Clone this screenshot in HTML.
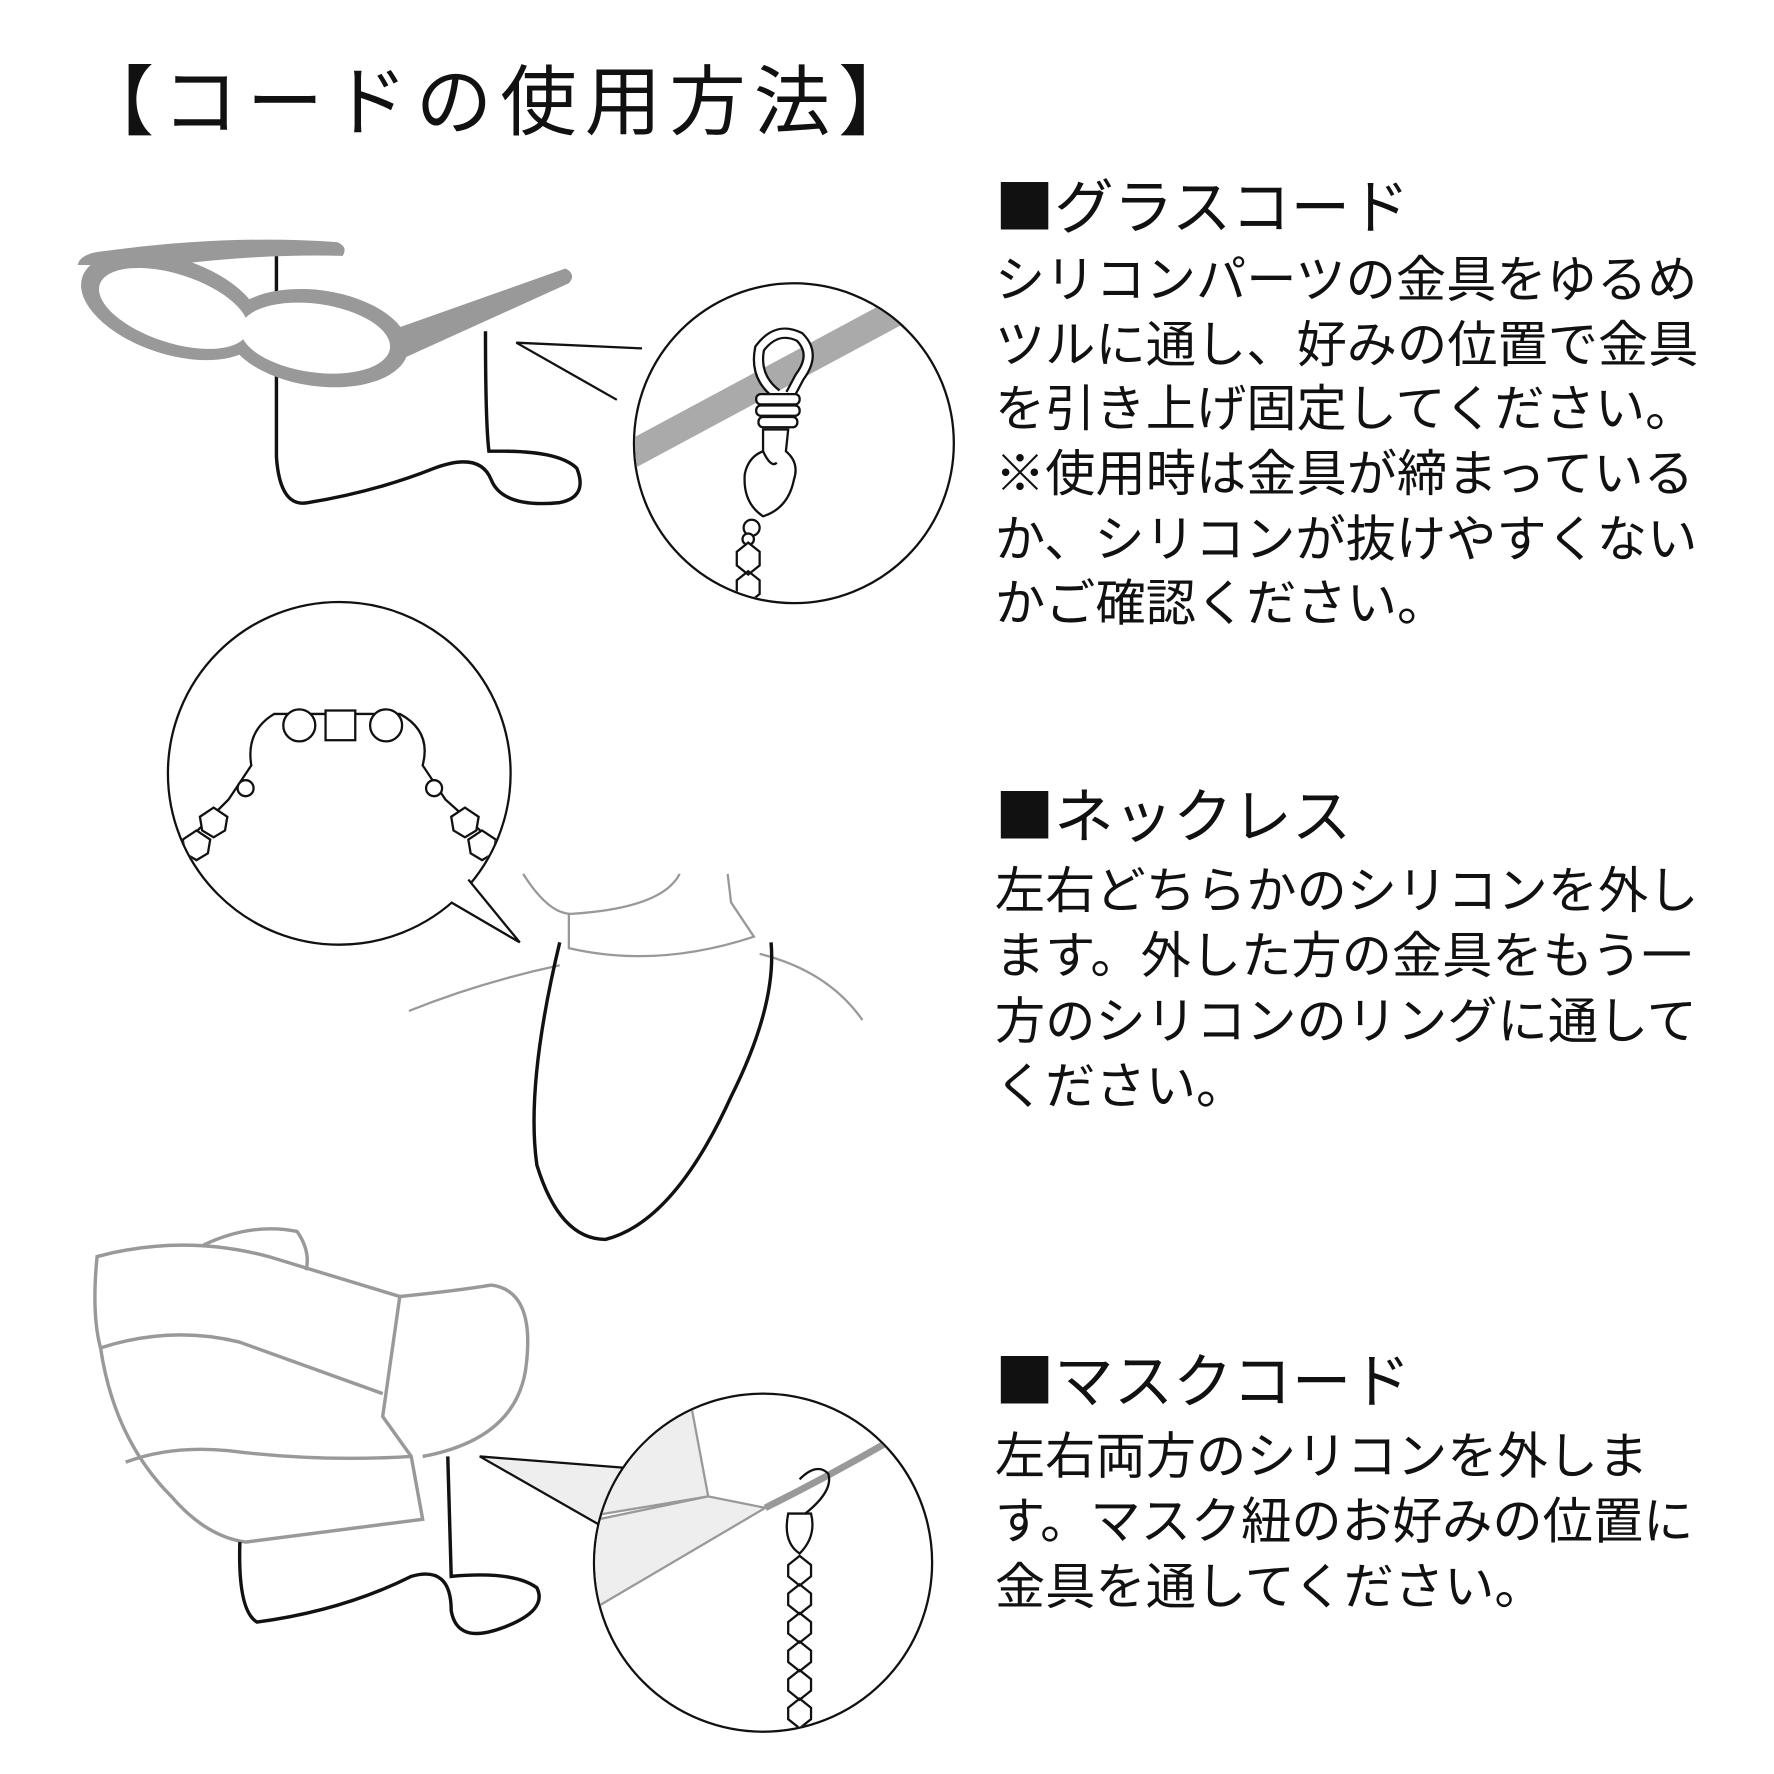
<!DOCTYPE html>
<html><head><meta charset="utf-8"><style>
html,body{margin:0;padding:0;background:#fff}
svg{display:block}
text{font-family:"Liberation Sans","Noto Sans CJK JP",sans-serif;fill:#111}
.h{font-family:"Noto Sans CJK JP",sans-serif}
</style></head><body>
<svg width="1774" height="1774" viewBox="0 0 1553 1553" xmlns="http://www.w3.org/2000/svg">
<rect width="1553" height="1553" fill="#fff"/>
<text x="68" y="113" font-size="67" class="h" letter-spacing="7">【コードの使用方法】</text>

<g font-size="44">
<text x="871" y="200" font-size="52" class="h">■グラスコード</text>
<text x="871" y="260">シリコンパーツの金具をゆるめ</text>
<text x="871" y="317">ツルに通し、好みの位置で金具</text>
<text x="871" y="373">を引き上げ固定してください。</text>
<text x="871" y="430">※使用時は金具が締まっている</text>
<text x="871" y="487">か、シリコンが抜けやすくない</text>
<text x="871" y="543">かご確認ください。</text>
<text x="871" y="733" font-size="52" class="h">■ネックレス</text>
<text x="871" y="795">左右どちらかのシリコンを外し</text>
<text x="871" y="852">ます。外した方の金具をもう一</text>
<text x="871" y="909">方のシリコンのリングに通して</text>
<text x="871" y="966">ください。</text>
<text x="871" y="1228" font-size="52" class="h">■マスクコード</text>
<text x="871" y="1290">左右両方のシリコンを外しま</text>
<text x="871" y="1347">す。マスク紐のお好みの位置に</text>
<text x="871" y="1404">金具を通してください。</text>
</g>

<path d="M242 212 L242 400 Q245 445 270 440 Q330 430 380 410 Q420 395 430 420 Q440 445 490 440 Q515 435 505 410 Q490 395 440 395 L428 395 Q425 370 425 290" fill="none" stroke="#111" stroke-width="3"/>
<g fill="#999">
<path d="M68 232 Q70 222 90 220 Q200 205 295 212 Q305 216 300 224 Q230 222 150 232 Z"/>
<ellipse cx="150" cy="268" rx="82" ry="42" transform="rotate(18 150 268)"/>
<ellipse cx="278" cy="296" rx="80" ry="42" transform="rotate(8 278 296)"/>
<path d="M340 290 L495 235 Q505 240 498 248 L350 315 Z"/>
</g>
<g fill="#fff">
<ellipse cx="152" cy="270" rx="68" ry="30" transform="rotate(18 152 270)"/>
<ellipse cx="276" cy="296" rx="66" ry="30" transform="rotate(8 276 296)"/>
</g>
<path d="M562 305 L452 300 L540 350" fill="#fff" stroke="#111" stroke-width="2"/>
<circle cx="695" cy="388" r="140" fill="#fff" stroke="#111" stroke-width="2"/>
<clipPath id="c1"><circle cx="695" cy="388" r="139"/></clipPath>
<g clip-path="url(#c1)" stroke="#111" stroke-width="2">
<path d="M530 410 L800 265" stroke="#aaa" stroke-width="24"/>
<path d="M680 345 Q660 330 665 305 Q680 285 700 295 Q715 310 700 330 L692 345" fill="none" stroke-width="10" stroke="#111"/>
<path d="M680 345 Q660 330 665 305 Q680 285 700 295 Q715 310 700 330 L692 345" fill="none" stroke-width="6" stroke="#fff"/>
<rect x="662" y="345" width="38" height="9" rx="4" fill="#fff"/>
<rect x="662" y="355" width="38" height="9" rx="4" fill="#fff"/>
<rect x="664" y="365" width="34" height="9" rx="4" fill="#fff"/>
<path d="M668 376 L690 376 L688 395 Q700 405 695 420 Q690 445 668 452 Q650 440 652 415 Q655 400 668 395 Z" fill="#fff"/>
<path d="M668 395 Q675 410 680 405" fill="none"/>
<circle cx="658" cy="462" r="7" fill="#fff"/>
<circle cx="655" cy="472" r="5" fill="#fff"/>
<path d="M645 483 l10 -8 l10 8 l0 12 l-10 8 l-10 -8z M645 508 l10 -8 l10 8 l0 12 l-10 8 l-10 -8z M645 533 l10 -8 l10 8 l0 12 l-10 8 l-10 -8z" fill="#fff"/>
</g>

<circle cx="297" cy="677" r="150" fill="#fff" stroke="#111" stroke-width="2"/>
<path d="M395 790 L455 825 L410 770" fill="#fff" stroke="#111" stroke-width="2"/>
<path d="M396 789 L409 771" stroke="#fff" stroke-width="4"/>
<clipPath id="c2"><circle cx="297" cy="677" r="149"/></clipPath>
<g clip-path="url(#c2)" fill="#fff" stroke="#111" stroke-width="2">
<path d="M160 740 L200 700 L220 670 Q215 640 240 625 L350 625 Q378 640 370 670 L390 700 L435 740" fill="none"/>
<circle cx="262" cy="635" r="14"/><circle cx="338" cy="635" r="14"/>
<rect x="285" y="622" width="26" height="26"/>
<circle cx="215" cy="690" r="7"/><circle cx="380" cy="690" r="7"/>
<path d="M175 715 l12 -8 l12 8 l-2 12 l-10 6 l-10 -6z M160 735 l12 -8 l12 8 l-2 12 l-10 6 l-10 -6z M395 715 l12 -8 l12 8 l-2 12 l-10 6 l-10 -6z M410 735 l12 -8 l12 8 l-2 12 l-10 6 l-10 -6z"/>
</g>
<g fill="none" stroke="#999" stroke-width="2">
<path d="M458 765 Q480 800 500 800 Q580 795 595 765"/>
<path d="M498 800 L498 830 Q575 848 660 820 L640 790 L637 765"/>
<path d="M358 885 Q420 860 490 845"/>
<path d="M665 835 Q725 850 755 893"/>
</g>
<path d="M490 825 Q460 950 470 1020 Q490 1085 530 1085 Q590 1070 640 960 Q680 880 675 825" fill="none" stroke="#111" stroke-width="3"/>

<g fill="none" stroke="#999" stroke-width="3">
<path d="M178 1090 Q220 1070 260 1078 Q272 1095 268 1112"/>
<path d="M85 1100 Q80 1150 88 1180 Q100 1260 150 1310 Q180 1345 215 1350 L370 1330 L360 1275 L335 1240 L350 1135 L235 1100 Q160 1080 85 1100 Z"/>
<path d="M88 1180 Q150 1160 210 1175 L335 1220"/>
<path d="M110 1280 Q150 1265 200 1270 Q280 1280 360 1275"/>
<path d="M350 1135 Q400 1130 430 1125 Q470 1130 460 1200 Q450 1260 370 1275"/>
</g>
<path d="M210 1350 Q208 1410 225 1420 Q300 1410 360 1380 Q395 1370 395 1410 Q400 1440 440 1425 Q480 1410 470 1390 Q450 1375 395 1380 L392 1275" fill="none" stroke="#111" stroke-width="3"/>
<path d="M548 1285 L420 1275 L525 1335 Z" fill="#eee" stroke="#111" stroke-width="2"/>
<circle cx="668" cy="1368" r="148" fill="#fff" stroke="#111" stroke-width="2"/>
<clipPath id="c3"><circle cx="668" cy="1368" r="147"/></clipPath>
<g clip-path="url(#c3)">
<path d="M500 1330 L620 1310 L605 1230 L500 1230 Z M500 1420 L670 1320 L620 1310 L500 1335 Z" fill="#eee" stroke="#999" stroke-width="2"/>
<path d="M670 1320 Q730 1290 790 1255" stroke="#999" stroke-width="6" fill="none"/>
<path d="M705 1325 Q730 1305 725 1290 Q715 1280 700 1295" fill="none" stroke="#111" stroke-width="2"/>
<path d="M690 1325 Q685 1350 700 1360 Q715 1345 710 1325 Z" fill="#fff" stroke="#111" stroke-width="2"/>
<path d="M690 1370 l10 -8 l10 8 l0 10 l-10 8 l-10 -8z M690 1395 l10 -8 l10 8 l0 10 l-10 8 l-10 -8z M690 1420 l10 -8 l10 8 l0 10 l-10 8 l-10 -8z M690 1445 l10 -8 l10 8 l0 10 l-10 8 l-10 -8z M690 1470 l10 -8 l10 8 l0 10 l-10 8 l-10 -8z M690 1495 l10 -8 l10 8 l0 10 l-10 8 l-10 -8z" fill="#fff" stroke="#111" stroke-width="2"/>
</g>
</svg>
</body></html>
